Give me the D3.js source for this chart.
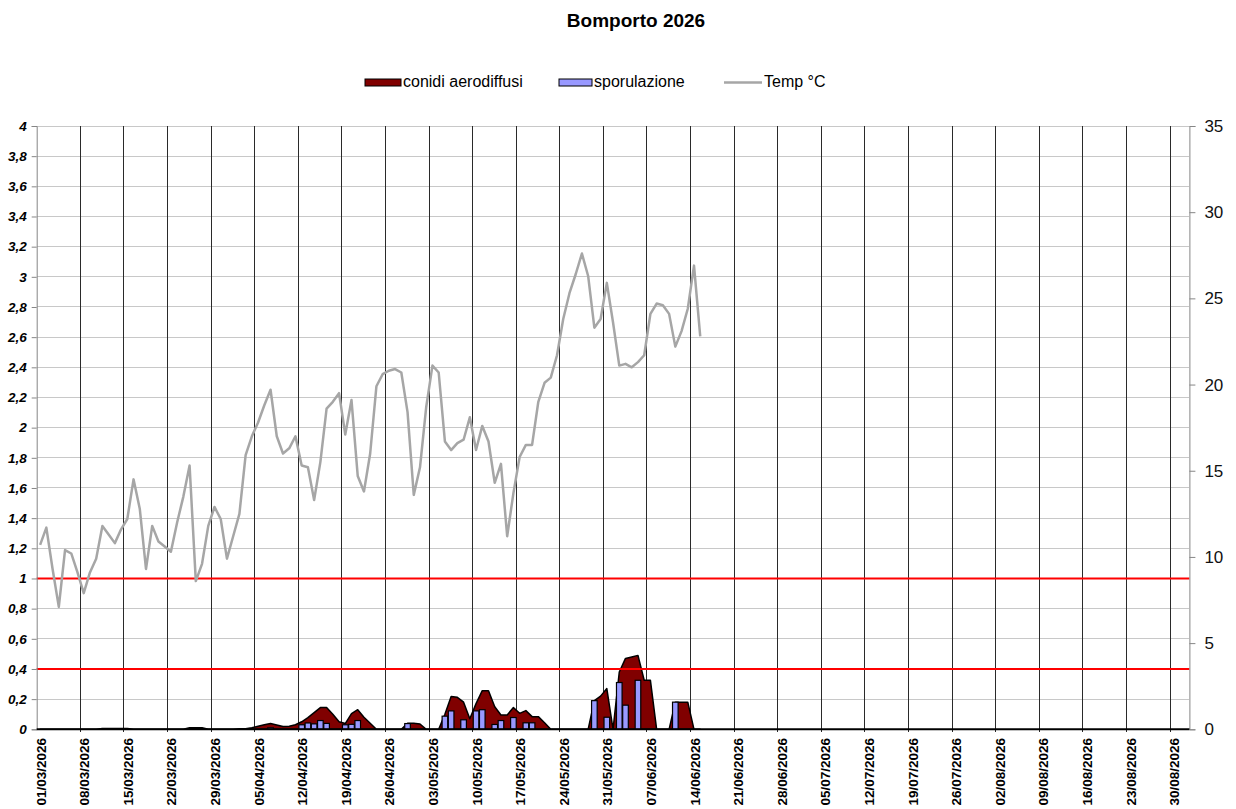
<!DOCTYPE html>
<html>
<head>
<meta charset="utf-8">
<script src="https://cdn.jsdelivr.net/npm/d3@7"></script>
<style>
  body { margin: 0; background: #fff; }
  svg text { font-family: "Liberation Sans", Arial, sans-serif; }
</style>
</head>
<body>
<div id="chart"></div>
<script>
const width = 1236;
const height = 809;
const marginTop = 126;
const marginLeft = 36.7;
const plotRight = 1189.4;
const plotBottom = 729.3;
const title = 'Bomporto 2026';

// one category per day, starting 01/03/2026 (185 days on the axis)
const nDays = 185;
const weekLabels = ['01/03/2026','08/03/2026','15/03/2026','22/03/2026','29/03/2026','05/04/2026',
  '12/04/2026','19/04/2026','26/04/2026','03/05/2026','10/05/2026','17/05/2026','24/05/2026',
  '31/05/2026','07/06/2026','14/06/2026','21/06/2026','28/06/2026','05/07/2026','12/07/2026',
  '19/07/2026','26/07/2026','02/08/2026','09/08/2026','16/08/2026','23/08/2026','30/08/2026'];

// daily temperature, °C (right axis)
const temp = [10.7,11.7,9.3,7.1,10.4,10.2,9.1,7.9,9.1,9.9,
  11.8,11.3,10.8,11.6,12.2,14.5,12.8,9.3,11.8,10.9,
  10.6,10.3,12.0,13.5,15.3,8.6,9.6,11.8,12.9,12.2,
  9.9,11.2,12.5,15.9,17.0,17.8,18.8,19.7,17.0,16.0,
  16.3,17.0,15.3,15.2,13.3,15.5,18.6,19.0,19.5,17.1,
  19.1,14.7,13.8,16.0,19.9,20.6,20.8,20.9,20.7,18.4,
  13.6,15.2,18.7,21.1,20.7,16.7,16.2,16.6,16.8,18.1,
  16.2,17.6,16.7,14.3,15.4,11.2,13.7,15.8,16.5,16.5,
  19.0,20.1,20.4,21.7,23.8,25.3,26.4,27.6,26.3,23.3,
  23.8,25.9,23.6,21.1,21.2,21.0,21.3,21.7,24.1,24.7,
  24.6,24.1,22.2,23.1,24.4,26.9,22.8];

// conidi aerodiffusi (left axis)
const conidi = [0,0,0,0,0,0,0,0,0,0,
  0.005,0.005,0.005,0.005,0.005,0,0,0,0,0,
  0,0,0,0,0.01,0.01,0.01,0,0,0,
  0,0,0.003,0.003,0.01,0.02,0.03,0.038,0.028,0.018,
  0.02,0.03,0.05,0.077,0.11,0.144,0.144,0.1,0.05,0.038,
  0.104,0.13,0.08,0.04,0,0,0,0,0,0.04,
  0.04,0.035,0,0,0,0.1,0.217,0.212,0.18,0.07,
  0.17,0.256,0.256,0.15,0.095,0.095,0.144,0.106,0.124,0.084,
  0.084,0.044,0,0,0,0,0,0,0,0.19,
  0.22,0.27,0,0.38,0.47,0.48,0.49,0.325,0.325,0,
  0,0,0.18,0.18,0.18,0,0];

// sporulazione (left axis)
const sporulazione = [0,0,0,0,0,0,0,0,0,0,
  0,0,0,0,0,0,0,0,0,0,
  0,0,0,0,0,0,0,0,0,0,
  0,0,0,0,0,0,0,0.01,0,0,
  0,0,0.03,0.042,0.036,0.058,0.039,0,0,0.03,
  0.033,0.058,0,0,0,0,0,0,0,0.038,
  0,0,0,0,0,0.087,0.122,0,0.063,0,
  0.122,0.13,0,0.032,0.058,0,0.078,0,0.043,0.043,
  0,0,0,0,0,0,0,0,0,0.19,
  0,0.08,0,0.31,0.16,0,0.325,0,0,0,
  0,0,0.18,0,0,0,0];

const leftTicks = [0,0.2,0.4,0.6,0.8,1,1.2,1.4,1.6,1.8,2,2.2,2.4,2.6,2.8,3,3.2,3.4,3.6,3.8,4];
const rightTicks = [0,5,10,15,20,25,30,35];
const thresholds = [1, 0.4];

const svg = d3.select('#chart').append('svg')
  .attr('width', width)
  .attr('height', height);

const x = d3.scaleBand()
  .domain(d3.range(nDays))
  .range([marginLeft, plotRight])
  .padding(0.1);
const step = x.step();
const cx = i => x(i) + x.bandwidth() / 2;
const tickX = k => marginLeft + k * 7 * step;

const yL = d3.scaleLinear().domain([0, 4]).range([plotBottom, marginTop]);
const yR = d3.scaleLinear().domain([0, 35]).range([plotBottom, marginTop]);

// title
svg.append('text')
  .attr('x', 636)
  .attr('y', 27)
  .attr('text-anchor', 'middle')
  .style('font-size', '19px')
  .style('font-weight', 'bold')
  .text(title);

// legend
const legend = svg.append('g');
legend.append('rect').attr('x', 365).attr('y', 79).attr('width', 36).attr('height', 7)
  .attr('fill', '#800000').attr('stroke', '#000').attr('stroke-width', 1);
legend.append('text').attr('x', 403).attr('y', 87).style('font-size', '16px').text('conidi aerodiffusi');
legend.append('rect').attr('x', 559).attr('y', 79).attr('width', 33).attr('height', 7)
  .attr('fill', '#9999FF').attr('stroke', '#000').attr('stroke-width', 1);
legend.append('text').attr('x', 594).attr('y', 87).style('font-size', '16px').text('sporulazione');
legend.append('line').attr('x1', 724).attr('x2', 762).attr('y1', 82.5).attr('y2', 82.5)
  .attr('stroke', '#A6A6A6').attr('stroke-width', 2.5);
legend.append('text').attr('x', 764).attr('y', 87).style('font-size', '16px').text('Temp °C');

// horizontal gridlines
svg.append('g')
  .attr('shape-rendering', 'crispEdges')
  .selectAll('line')
  .data(leftTicks.slice(1))
  .join('line')
  .attr('x1', marginLeft)
  .attr('x2', plotRight)
  .attr('y1', d => yL(d))
  .attr('y2', d => yL(d))
  .attr('stroke', '#c8c8c8')
  .attr('stroke-width', 1);

// vertical gridlines, one per week
svg.append('g')
  .attr('shape-rendering', 'crispEdges')
  .selectAll('line')
  .data(weekLabels.slice(1))
  .join('line')
  .attr('x1', (d, i) => tickX(i + 1))
  .attr('x2', (d, i) => tickX(i + 1))
  .attr('y1', marginTop)
  .attr('y2', plotBottom + 3)
  .attr('stroke', '#2a2a2a')
  .attr('stroke-width', 1);

// conidi area
const area = d3.area()
  .x((d, i) => cx(i))
  .y0(yL(0))
  .y1(d => yL(d));
svg.append('path')
  .datum(conidi)
  .attr('d', area)
  .attr('fill', '#800000')
  .attr('stroke', '#000')
  .attr('stroke-width', 1.5)
  .attr('stroke-linejoin', 'round');

// sporulazione bars
svg.append('g')
  .selectAll('rect')
  .data(sporulazione.map((v, i) => ({i, v})).filter(d => d.v > 0))
  .join('rect')
  .attr('x', d => x(d.i))
  .attr('y', d => yL(d.v))
  .attr('width', x.bandwidth())
  .attr('height', d => yL(0) - yL(d.v))
  .attr('fill', '#9999FF')
  .attr('stroke', '#000')
  .attr('stroke-width', 1.2);

// red thresholds
svg.append('g')
  .selectAll('line')
  .data(thresholds)
  .join('line')
  .attr('x1', marginLeft)
  .attr('x2', plotRight)
  .attr('y1', d => yL(d))
  .attr('y2', d => yL(d))
  .attr('stroke', '#FF0000')
  .attr('stroke-width', 2);

// temperature line
const line = d3.line()
  .x((d, i) => cx(i))
  .y(d => yR(d));
svg.append('path')
  .datum(temp)
  .attr('d', line)
  .attr('fill', 'none')
  .attr('stroke', '#A6A6A6')
  .attr('stroke-width', 2.5)
  .attr('stroke-linejoin', 'round');

// left axis
const fmt = d => String(+d.toFixed(1)).replace('.', ',');
const axL = svg.append('g')
  .attr('transform', `translate(${marginLeft},0)`)
  .call(d3.axisLeft(yL).tickValues(leftTicks).tickFormat(fmt).tickSize(5).tickPadding(5));
axL.select('.domain').attr('stroke', '#868686');
axL.selectAll('.tick line').attr('stroke', '#868686');
axL.selectAll('.tick text')
  .style('font-size', '13.5px')
  .style('font-weight', 'bold')
  .style('font-style', 'italic')
  .attr('fill', '#000');

// right axis
const axR = svg.append('g')
  .attr('transform', `translate(${plotRight},0)`)
  .call(d3.axisRight(yR).tickValues(rightTicks).tickSize(6).tickPadding(9));
axR.select('.domain').attr('stroke', '#868686');
axR.selectAll('.tick line').attr('stroke', '#868686');
axR.selectAll('.tick text')
  .style('font-size', '17px')
  .attr('fill', '#111');

// bottom axis line
svg.append('line')
  .attr('x1', marginLeft)
  .attr('x2', plotRight)
  .attr('y1', plotBottom)
  .attr('y2', plotBottom)
  .attr('stroke', '#000')
  .attr('stroke-width', 2);

// date labels
svg.append('g')
  .selectAll('text')
  .data(weekLabels)
  .join('text')
  .attr('transform', (d, i) => `translate(${tickX(i) + 9},738) rotate(-90)`)
  .attr('text-anchor', 'end')
  .style('font-size', '13.5px')
  .style('font-weight', 'bold')
  .text(d => d);
</script>
</body>
</html>
